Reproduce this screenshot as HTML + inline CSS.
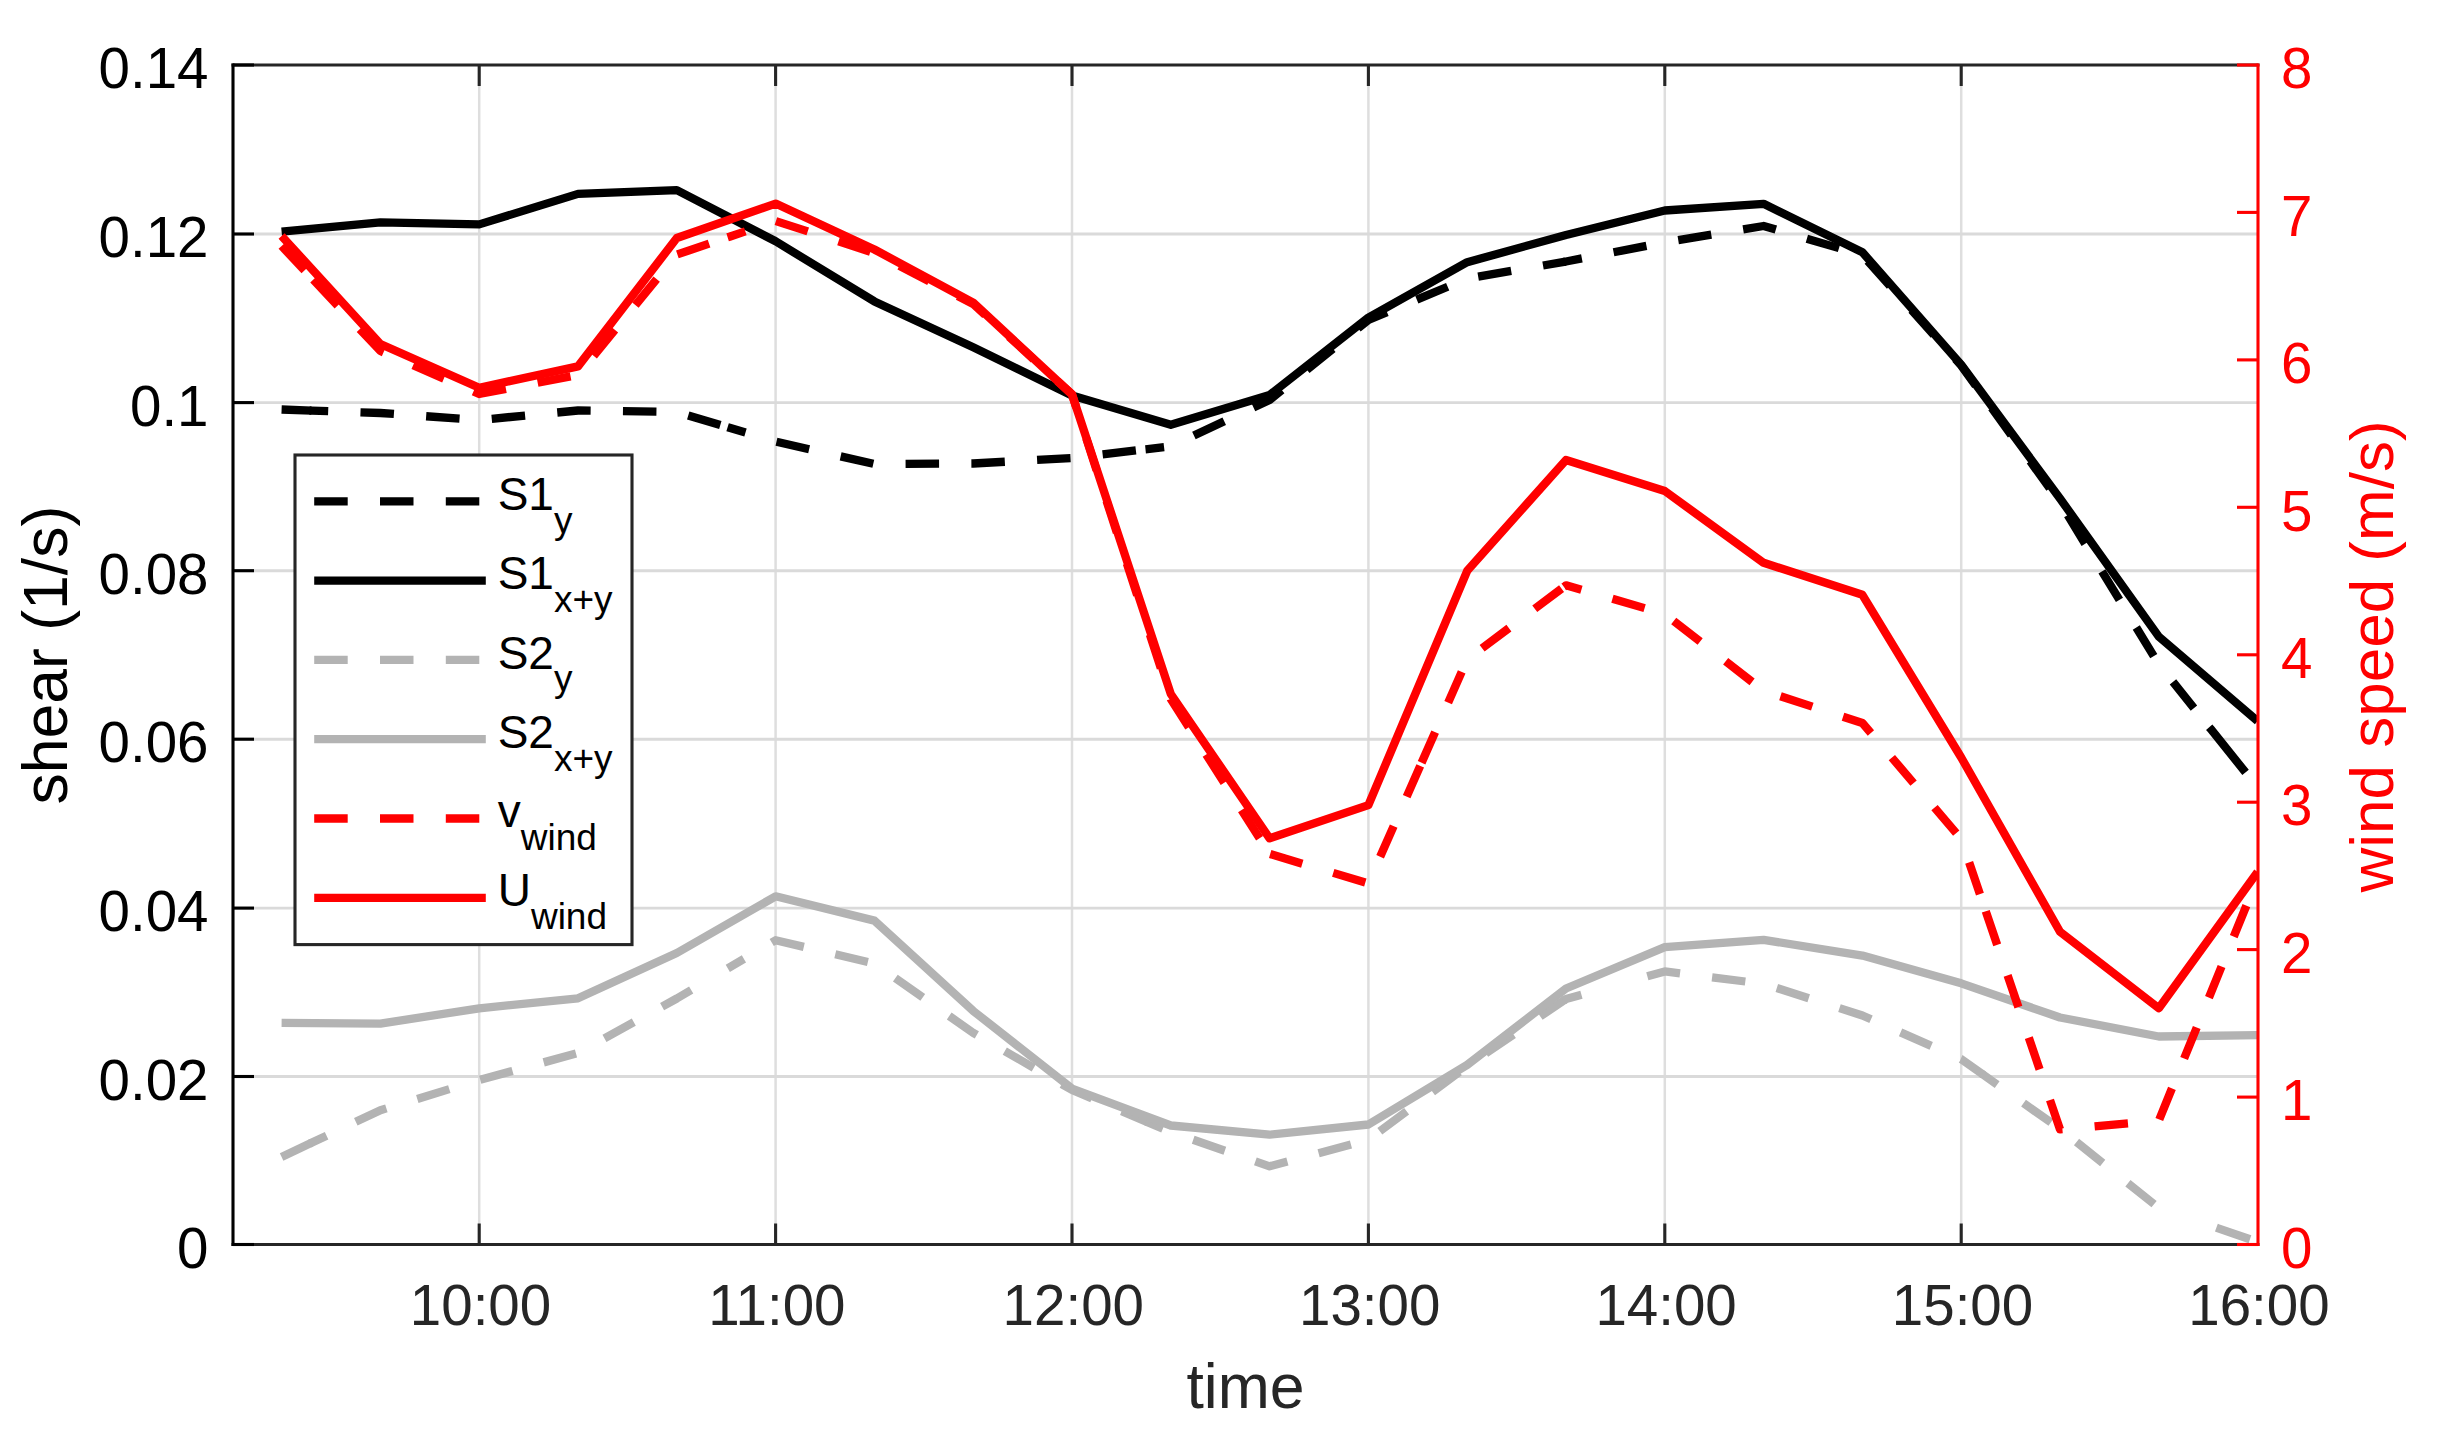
<!DOCTYPE html>
<html lang="en"><head><meta charset="utf-8"><title>shear and wind speed</title>
<style>
html,body{margin:0;padding:0;background:#fff;}
body{width:2437px;height:1443px;overflow:hidden;}
svg{display:block;}
text{font-family:"Liberation Sans",sans-serif;}
.tk{font-size:56.5px;}
.lb{font-size:62.5px;}
.lg{font-size:46px;fill:#000;}
.sub{font-size:37px;}
.ln{fill:none;stroke-width:8.3;stroke-linejoin:round;stroke-linecap:butt;}
</style></head><body>
<svg width="2437" height="1443" viewBox="0 0 2437 1443">
<rect width="2437" height="1443" fill="#fff"/>
<defs><clipPath id="ax"><rect x="233.0" y="65.0" width="2025.0" height="1179.5"/></clipPath></defs>

<g stroke="#dedede" stroke-width="2.5" fill="none">
<line x1="479.2" y1="65.0" x2="479.2" y2="1244.5"/>
<line x1="775.6" y1="65.0" x2="775.6" y2="1244.5"/>
<line x1="1072.0" y1="65.0" x2="1072.0" y2="1244.5"/>
<line x1="1368.4" y1="65.0" x2="1368.4" y2="1244.5"/>
<line x1="1664.8" y1="65.0" x2="1664.8" y2="1244.5"/>
<line x1="1961.2" y1="65.0" x2="1961.2" y2="1244.5"/>
</g>
<g stroke="#dadada" stroke-width="2.9" fill="none">
<line x1="233.0" y1="1076.5" x2="2258.0" y2="1076.5"/>
<line x1="233.0" y1="908.1" x2="2258.0" y2="908.1"/>
<line x1="233.0" y1="739.2" x2="2258.0" y2="739.2"/>
<line x1="233.0" y1="570.7" x2="2258.0" y2="570.7"/>
<line x1="233.0" y1="402.6" x2="2258.0" y2="402.6"/>
<line x1="233.0" y1="234.0" x2="2258.0" y2="234.0"/>
</g>
<g clip-path="url(#ax)">
<polyline class="ln" stroke="#000" stroke-dasharray="33.5 32.3 33.5 32.3" points="281.6,409.5 311.5,410.6"/>
<polyline class="ln" stroke="#000" stroke-dasharray="18.7 32.3 33.5 32.3 33.5 32.3 33.5 32.3 33.5 32.3 33.5 32.3 33.5 32.3 33.5 32.3" points="309.5,410.5 311.5,410.6 380.4,413.0 479.2,420.0 578.0,410.5 676.8,412.0 729.5,427.8"/>
<polyline class="ln" stroke="#000" stroke-dasharray="18.7 32.3 33.5 32.3 33.5 32.3 33.5 32.3 33.5 32.3 33.5 32.3 33.5 32.3 33.5 32.3" points="727.6,427.2 729.5,427.8 775.6,441.6 874.4,464.0 973.2,463.5 1072.0,458.0 1147.5,449.1"/>
<polyline class="ln" stroke="#000" stroke-dasharray="18.7 32.3 33.5 32.3 33.5 32.3 33.5 32.3 33.5 32.3 33.5 32.3 33.5 32.3 33.5 32.3 33.5 32.3" points="1145.5,449.3 1147.5,449.1 1170.8,446.3 1269.6,400.0 1368.4,320.0 1467.2,278.5 1565.5,261.6"/>
<polyline class="ln" stroke="#000" stroke-dasharray="18.7 32.3 33.5 32.3 33.5 32.3 33.5 32.3 33.5 32.3 33.5 32.3 33.5 32.3 33.5 32.3 33.5 32.3 33.5 32.3" points="1563.5,261.9 1565.5,261.6 1566.0,261.5 1664.8,242.3 1763.6,226.0 1862.4,255.0 1961.2,365.5 1986.4,400.5"/>
<polyline class="ln" stroke="#000" stroke-dasharray="0 9 33.5 32.3 33.5 32.3 33.5 32.3 33.5 32.3 33.5 32.3 33.5 32.3 33.5 32.3 33.5 32.3" points="1986.4,400.5 2060.0,502.6 2158.8,664.3 2210.5,728.7"/>
<polyline class="ln" stroke="#000" stroke-dasharray="58 99 33.5 32.3" points="2209.2,727.2 2210.5,728.7 2257.6,787.4"/>
<polyline class="ln" stroke="#000" points="281.6,231.7 380.4,222.4 479.2,224.4 578.0,193.9 676.8,190.1 775.6,241.3 874.4,301.4 973.2,347.3 1072.0,395.6 1170.8,424.8 1269.6,395.0 1368.4,317.6 1467.2,262.2 1566.0,235.0 1664.8,210.5 1763.6,203.8 1862.4,252.3 1961.2,364.8 2060.0,498.5 2158.8,636.6 2257.6,721.0"/>
<polyline class="ln" stroke="#b3b3b3" stroke-dasharray="33.5 32.3 33.5 32.3" points="281.6,1157.0 311.5,1142.8"/>
<polyline class="ln" stroke="#b3b3b3" stroke-dasharray="18.7 32.3 33.5 32.3 33.5 32.3 33.5 32.3 33.5 32.3 33.5 32.3 33.5 98.1 33.5 32.3" points="309.7,1143.7 311.5,1142.8 380.4,1110.2 479.2,1080.0 578.0,1053.0 676.8,998.5 729.5,967.4"/>
<polyline class="ln" stroke="#b3b3b3" stroke-dasharray="18.7 32.3 33.5 32.3 33.5 32.3 33.5 32.3 33.5 32.3 33.5 32.3 33.5 32.3 33.5 32.3 33.5 32.3" points="727.8,968.4 729.5,967.4 775.6,940.2 874.4,963.5 973.2,1032.8 1072.0,1090.0 1147.5,1122.1"/>
<polyline class="ln" stroke="#b3b3b3" stroke-dasharray="18.7 32.3 33.5 32.3 33.5 32.3 33.5 32.3 33.5 32.3 33.5 32.3 33.5 32.3 33.5 32.3 33.5 32.3" points="1145.7,1121.3 1147.5,1122.1 1170.8,1132.0 1269.6,1166.3 1368.4,1139.8 1467.2,1066.0 1565.5,999.3"/>
<polyline class="ln" stroke="#b3b3b3" stroke-dasharray="18.7 68.4 33.5 32.3 33.5 32.3 33.5 32.3 33.5 32.3 33.5 32.3 33.5 32.3 33.5 32.3" points="1563.8,1000.5 1565.5,999.3 1566.0,999.0 1664.8,971.4 1763.6,983.8 1862.4,1015.5 1961.2,1059.1 1983.5,1074.9"/>
<polyline class="ln" stroke="#b3b3b3" stroke-dasharray="18.7 32.3 33.5 32.3 33.5 32.3 33.5 98.1 33.5 32.3" points="1981.9,1073.7 1983.5,1074.9 2060.0,1128.9 2158.8,1207.9 2218.3,1228.4"/>
<polyline class="ln" stroke="#b3b3b3" stroke-dasharray="35.5 32.3 33.5 32.3" points="2216.4,1227.7 2218.3,1228.4 2257.6,1241.9"/>
<polyline class="ln" stroke="#b3b3b3" points="281.6,1022.8 380.4,1023.6 479.2,1008.3 578.0,998.3 676.8,953.0 775.6,896.3 874.4,920.6 973.2,1010.9 1072.0,1088.6 1170.8,1125.5 1269.6,1134.7 1368.4,1124.5 1467.2,1064.9 1566.0,988.5 1664.8,947.2 1763.6,939.8 1862.4,955.6 1961.2,983.3 2060.0,1017.5 2158.8,1036.5 2257.6,1035.1"/>
<polyline class="ln" stroke="#f00" stroke-dasharray="33.5 80.6 33.5 32.3" points="281.6,246.0 314.7,281.2"/>
<polyline class="ln" stroke="#f00" stroke-dasharray="35.5 32.3 33.5 32.3 33.5 32.3 33.5 32.3 33.5 32.3 33.5 32.3 33.5 32.3 33.5 32.3 33.5 32.3 33.5 32.3" points="313.3,279.7 314.7,281.2 380.4,351.0 479.2,394.0 578.0,375.0 676.8,254.6 729.5,236.7"/>
<polyline class="ln" stroke="#f00" stroke-dasharray="18.7 32.3 33.5 32.3 33.5 32.3 33.5 32.3 33.5 32.3 33.5 32.3 33.5 32.3 33.5 32.3 33.5 32.3 33.5 98.1 33.5 32.3" points="727.6,237.3 729.5,236.7 775.6,221.0 874.4,253.0 973.2,304.0 1072.0,394.4 1150.5,636.4"/>
<polyline class="ln" stroke="#f00" stroke-dasharray="35.5 32.3 33.5 32.3 33.5 32.3 33.5 32.3 33.5 32.3 33.5 32.3" points="1149.9,634.5 1150.5,636.4 1170.8,699.0 1269.6,853.9"/>
<polyline class="ln" stroke="#f00" stroke-dasharray="0 0.6 33.5 32.3 33.5 32.3 33.5 32.3 33.5 32.3 33.5 32.3" points="1269.6,853.9 1368.4,883.4 1420.4,765.5"/>
<polyline class="ln" stroke="#f00" stroke-dasharray="0 3 33.5 32.3 33.5 32.3 33.5 32.3 33.5 32.3 33.5 32.3" points="1420.4,765.5 1467.2,659.4 1565.5,585.7"/>
<polyline class="ln" stroke="#f00" stroke-dasharray="18.7 32.3 33.5 32.3 33.5 32.3 33.5 32.3 33.5 32.3 33.5 32.3 33.5 32.3 33.5 32.3 33.5 32.3 33.5 32.3 33.5 32.3" points="1563.9,586.9 1565.5,585.7 1566.0,585.3 1664.8,614.0 1763.6,690.8 1862.4,723.0 1961.2,839.0 1986.4,913.1"/>
<polyline class="ln" stroke="#f00" stroke-dasharray="35.5 32.3 33.5 32.3 33.5 32.3 33.5 32.3 33.5 32.3 33.5 32.3 33.5 32.3 33.5 32.3 33.5 32.3 33.5 32.3 33.5 32.3" points="1985.8,911.2 1986.4,913.1 2060.0,1129.4 2158.8,1120.7 2257.6,878.0"/>
<polyline class="ln" stroke="#f00" points="281.6,236.0 380.4,344.0 479.2,387.7 578.0,366.4 676.8,238.0 775.6,203.6 874.4,249.5 973.2,302.6 1072.0,394.4 1170.8,694.0 1269.6,838.3 1368.4,805.1 1467.2,570.8 1566.0,460.0 1664.8,491.0 1763.6,562.8 1862.4,594.8 1961.2,757.5 2060.0,931.8 2158.8,1008.3 2257.6,872.0"/>
</g>
<g stroke="#262626" stroke-width="3.1" fill="none">
<line x1="231.5" y1="1244.5" x2="2259.5" y2="1244.5"/><line x1="231.5" y1="65.0" x2="2259.5" y2="65.0"/>
<line x1="479.2" y1="1244.5" x2="479.2" y2="1223.5"/><line x1="479.2" y1="65.0" x2="479.2" y2="86.0"/>
<line x1="775.6" y1="1244.5" x2="775.6" y2="1223.5"/><line x1="775.6" y1="65.0" x2="775.6" y2="86.0"/>
<line x1="1072.0" y1="1244.5" x2="1072.0" y2="1223.5"/><line x1="1072.0" y1="65.0" x2="1072.0" y2="86.0"/>
<line x1="1368.4" y1="1244.5" x2="1368.4" y2="1223.5"/><line x1="1368.4" y1="65.0" x2="1368.4" y2="86.0"/>
<line x1="1664.8" y1="1244.5" x2="1664.8" y2="1223.5"/><line x1="1664.8" y1="65.0" x2="1664.8" y2="86.0"/>
<line x1="1961.2" y1="1244.5" x2="1961.2" y2="1223.5"/><line x1="1961.2" y1="65.0" x2="1961.2" y2="86.0"/>
</g>
<g stroke="#000" stroke-width="3.1" fill="none">
<line x1="233.0" y1="63.5" x2="233.0" y2="1246.0"/>
<line x1="233.0" y1="1244.5" x2="254.0" y2="1244.5"/>
<line x1="233.0" y1="1076.5" x2="254.0" y2="1076.5"/>
<line x1="233.0" y1="908.1" x2="254.0" y2="908.1"/>
<line x1="233.0" y1="739.2" x2="254.0" y2="739.2"/>
<line x1="233.0" y1="570.7" x2="254.0" y2="570.7"/>
<line x1="233.0" y1="402.6" x2="254.0" y2="402.6"/>
<line x1="233.0" y1="234.0" x2="254.0" y2="234.0"/>
<line x1="233.0" y1="65.0" x2="254.0" y2="65.0"/>
</g>
<g stroke="#f00" stroke-width="3.1" fill="none">
<line x1="2258.0" y1="63.5" x2="2258.0" y2="1246.0"/>
<line x1="2258.0" y1="1244.5" x2="2237.0" y2="1244.5"/>
<line x1="2258.0" y1="1097.1" x2="2237.0" y2="1097.1"/>
<line x1="2258.0" y1="949.6" x2="2237.0" y2="949.6"/>
<line x1="2258.0" y1="802.2" x2="2237.0" y2="802.2"/>
<line x1="2258.0" y1="654.8" x2="2237.0" y2="654.8"/>
<line x1="2258.0" y1="507.3" x2="2237.0" y2="507.3"/>
<line x1="2258.0" y1="359.9" x2="2237.0" y2="359.9"/>
<line x1="2258.0" y1="212.4" x2="2237.0" y2="212.4"/>
<line x1="2258.0" y1="65.0" x2="2237.0" y2="65.0"/>
</g>
<g class="tk" fill="#000" text-anchor="end">
<text x="208.5" y="1267.7">0</text>
<text x="208.5" y="1099.7">0.02</text>
<text x="208.5" y="931.3">0.04</text>
<text x="208.5" y="762.4">0.06</text>
<text x="208.5" y="593.9">0.08</text>
<text x="208.5" y="425.8">0.1</text>
<text x="208.5" y="257.2">0.12</text>
<text x="208.5" y="88.2">0.14</text>
</g>
<g class="tk" fill="#f00" text-anchor="start">
<text x="2281" y="1267.7">0</text>
<text x="2281" y="1120.3">1</text>
<text x="2281" y="972.8">2</text>
<text x="2281" y="825.4">3</text>
<text x="2281" y="678.0">4</text>
<text x="2281" y="530.5">5</text>
<text x="2281" y="383.1">6</text>
<text x="2281" y="235.6">7</text>
<text x="2281" y="88.2">8</text>
</g>
<g class="tk" fill="#262626" text-anchor="middle">
<text x="480.5" y="1325">10:00</text>
<text x="776.9" y="1325">11:00</text>
<text x="1073.3" y="1325">12:00</text>
<text x="1369.7" y="1325">13:00</text>
<text x="1666.1" y="1325">14:00</text>
<text x="1962.5" y="1325">15:00</text>
<text x="2258.9" y="1325">16:00</text>
</g>
<text class="lb" fill="#262626" text-anchor="middle" x="1245.5" y="1407.5">time</text>
<text class="lb" fill="#000" text-anchor="middle" transform="translate(67.4 655.1) rotate(-90)">shear (1/s)</text>
<text class="lb" style="font-size:62px" fill="#f00" text-anchor="middle" transform="translate(2393.3 656.5) rotate(-90)">wind speed (m/s)</text>
<rect x="295" y="455" width="337" height="489.6" fill="#fff" stroke="#262626" stroke-width="3.1"/>
<line class="ln" x1="314.2" y1="501.3" x2="485.8" y2="501.3" stroke="#000" stroke-dasharray="33.5 32.3"/>
<text class="lg" x="497.7" y="509.9">S1<tspan class="sub" dy="22.9">y</tspan></text>
<line class="ln" x1="314.2" y1="580.6" x2="485.8" y2="580.6" stroke="#000"/>
<text class="lg" x="497.7" y="589.2">S1<tspan class="sub" dy="22.9">x+y</tspan></text>
<line class="ln" x1="314.2" y1="659.9" x2="485.8" y2="659.9" stroke="#b3b3b3" stroke-dasharray="33.5 32.3"/>
<text class="lg" x="497.7" y="668.5">S2<tspan class="sub" dy="22.9">y</tspan></text>
<line class="ln" x1="314.2" y1="739.2" x2="485.8" y2="739.2" stroke="#b3b3b3"/>
<text class="lg" x="497.7" y="747.8">S2<tspan class="sub" dy="22.9">x+y</tspan></text>
<line class="ln" x1="314.2" y1="818.5" x2="485.8" y2="818.5" stroke="#f00" stroke-dasharray="33.5 32.3"/>
<text class="lg" x="497.7" y="827.1">v<tspan class="sub" dy="22.9">wind</tspan></text>
<line class="ln" x1="314.2" y1="897.8" x2="485.8" y2="897.8" stroke="#f00"/>
<text class="lg" x="497.7" y="906.4">U<tspan class="sub" dy="22.9">wind</tspan></text>
</svg></body></html>
